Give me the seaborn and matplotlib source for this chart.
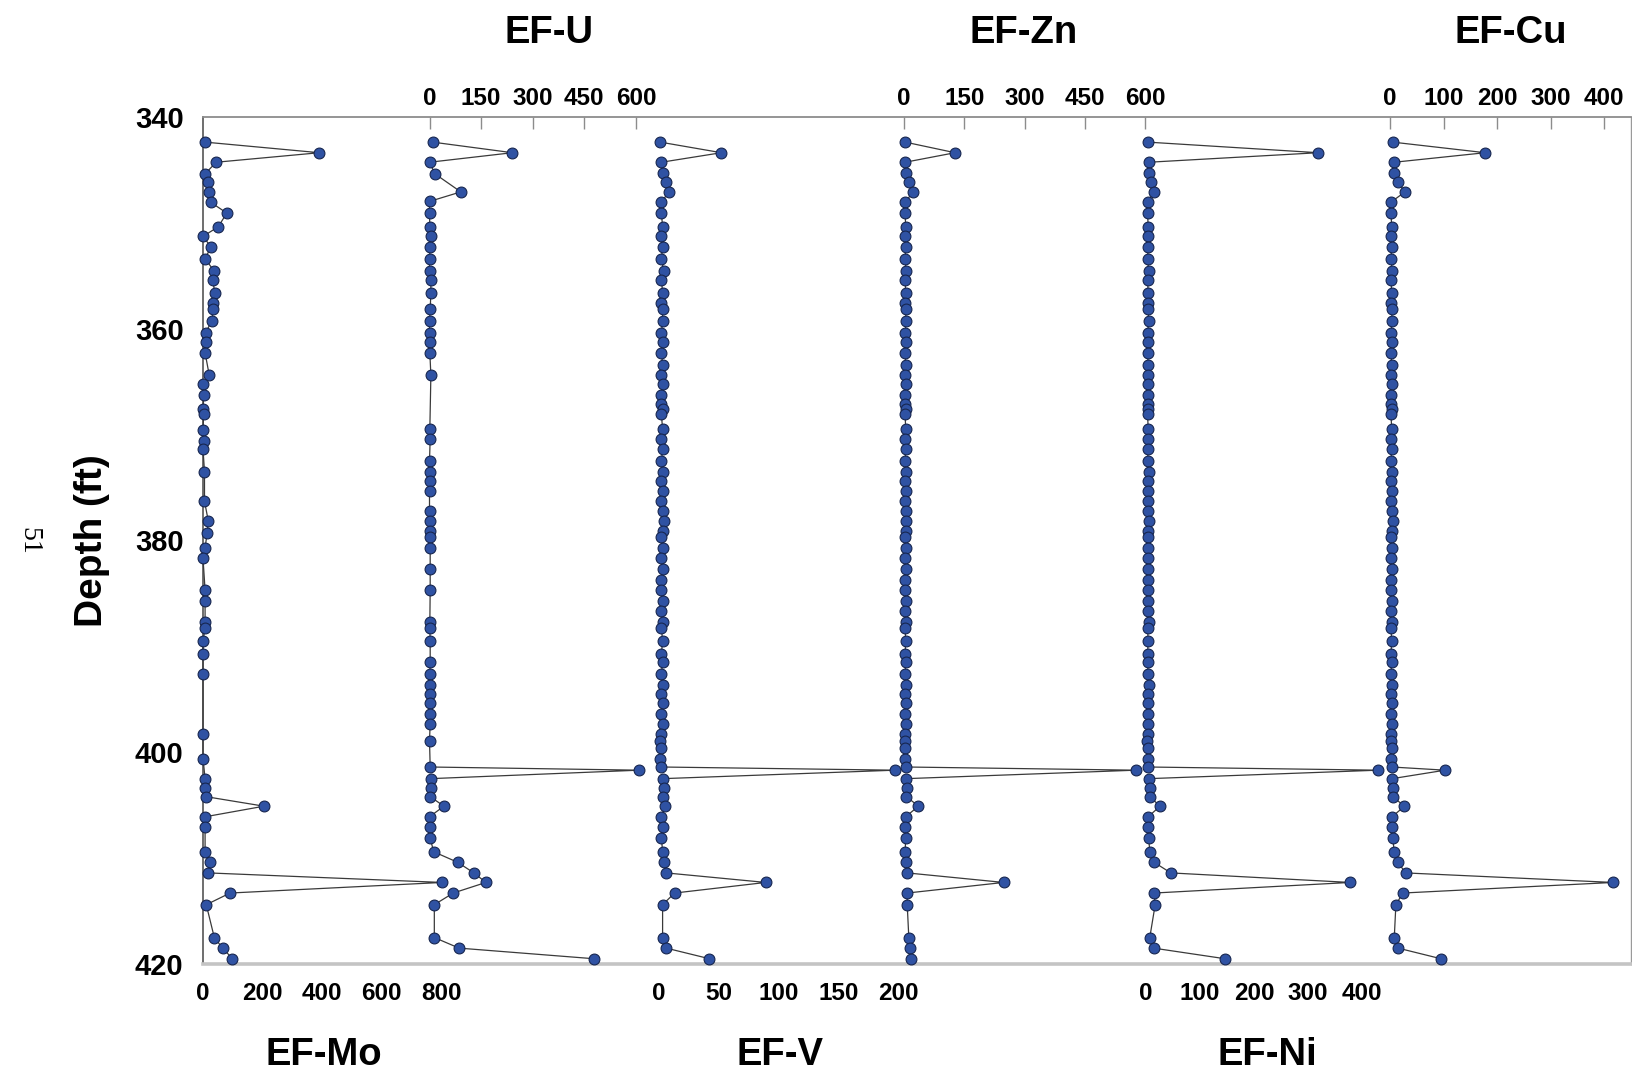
import matplotlib
matplotlib.use("Agg")
import matplotlib.pyplot as plt
import seaborn as sns

# ---- data (depth in ft, enrichment factors) ----
mo_depth = [342.4, 343.4, 344.3, 345.4, 346.2, 347.1, 348.1, 349.1, 350.4, 351.3,
            352.3, 353.4, 354.6, 355.4, 356.6, 357.6, 358.2, 359.3, 360.4, 361.3,
            362.3, 364.4, 365.2, 366.3, 367.6, 368.1, 369.6, 370.6, 371.4, 373.5,
            376.3, 378.2, 379.3, 380.7, 381.7, 384.7, 385.7, 387.7, 388.3, 389.5,
            390.7, 392.6, 398.3, 400.6, 402.5, 403.4, 404.2, 405.1, 406.1, 407.1,
            409.4, 410.4, 411.4, 412.3, 413.3, 414.4, 417.5, 418.5, 419.5]
mo = [7, 391, 44, 7, 18, 21, 27, 80, 51, 0,
      27, 7, 38, 32, 40, 35, 35, 29, 9, 9,
      7, 21, 0, 3, 0, 2, 0, 3, 0, 5,
      5, 18, 14, 7, 0, 7, 7, 7, 7, 0,
      0, 0, 0, 0, 7, 7, 10, 205, 7, 7,
      7, 24, 18, 804, 91, 11, 38, 66, 99]

u_depth = [342.4, 343.4, 344.3, 345.4, 347.1, 348.0, 349.1, 350.4, 351.3, 352.3,
           353.4, 354.6, 355.4, 356.6, 358.2, 359.3, 360.4, 361.3, 362.3, 364.4,
           369.5, 370.4, 372.5, 373.5, 374.4, 375.3, 377.2, 378.2, 379.1, 379.7,
           380.7, 382.7, 384.7, 387.7, 388.3, 389.5, 391.5, 392.6, 393.7, 394.5,
           395.4, 396.4, 397.3, 398.9, 401.4, 401.7, 402.5, 403.4, 404.2, 405.1,
           406.1, 407.1, 408.1, 409.4, 410.4, 411.4, 412.3, 413.3, 414.4, 417.5,
           418.5, 419.5]
u = [9, 241, 0, 16, 91, 0, 0, 1, 4, 2,
     0, 0, 4, 4, 2, 0, 0, 1, 1, 4,
     1, 2, 0, 0, 1, 0, 0, 1, 1, 1,
     2, 2, 2, 1, 1, 2, 2, 1, 1, 1,
     1, 1, 2, 0, 2, 609, 3, 5, 2, 42,
     0, 2, 2, 12, 82, 129, 164, 69, 14, 14,
     86, 477]

depth = [342.4, 343.4, 344.3, 345.3, 346.2, 347.1, 348.1, 349.1, 350.4, 351.3,
         352.3, 353.4, 354.6, 355.4, 356.6, 357.6, 358.2, 359.3, 360.4, 361.3,
         362.3, 363.4, 364.4, 365.2, 366.3, 367.1, 367.6, 368.1, 369.5, 370.4,
         371.4, 372.5, 373.5, 374.4, 375.3, 376.3, 377.2, 378.2, 379.1, 379.7,
         380.7, 381.7, 382.7, 383.7, 384.7, 385.7, 386.7, 387.7, 388.3, 389.5,
         390.7, 391.5, 392.6, 393.7, 394.5, 395.4, 396.4, 397.3, 398.3, 398.9,
         399.6, 400.6, 401.4, 401.7, 402.5, 403.4, 404.2, 405.1, 406.1, 407.1,
         408.1, 409.4, 410.4, 411.4, 412.3, 413.3, 414.4, 417.5, 418.5, 419.5]
v = [1, 52, 2, 3, 6, 8, 2, 2, 3, 2,
     3, 2, 4, 2, 3, 2, 3, 3, 2, 3,
     2, 3, 2, 3, 2, 2, 3, 2, 3, 2,
     3, 2, 3, 2, 3, 2, 3, 4, 3, 2,
     3, 2, 3, 2, 2, 3, 2, 3, 2, 3,
     2, 3, 2, 3, 2, 3, 2, 3, 2, 1,
     2, 1, 2, 197, 3, 4, 3, 5, 2, 3,
     2, 3, 4, 6, 89, 13, 3, 3, 6, 42]
zn = [3, 127, 3, 6, 12, 22, 3, 3, 4, 3,
      4, 3, 5, 3, 4, 3, 4, 5, 3, 4,
      3, 4, 3, 4, 3, 3, 4, 3, 4, 3,
      4, 3, 5, 3, 4, 3, 4, 6, 4, 3,
      4, 3, 4, 3, 3, 4, 3, 5, 3, 4,
      3, 4, 3, 5, 3, 4, 3, 4, 3, 2,
      3, 2, 6, 577, 5, 8, 6, 36, 4, 3,
      4, 3, 5, 8, 248, 8, 8, 12, 16, 18]
ni = [3, 319, 5, 6, 10, 15, 3, 3, 4, 3,
      4, 3, 5, 3, 4, 3, 4, 5, 3, 4,
      3, 4, 3, 4, 3, 3, 4, 3, 4, 3,
      4, 3, 5, 3, 4, 3, 4, 6, 4, 3,
      4, 3, 4, 3, 3, 4, 3, 5, 3, 4,
      3, 4, 3, 5, 3, 4, 3, 4, 3, 2,
      4, 3, 4, 430, 5, 8, 7, 26, 4, 3,
      5, 7, 15, 46, 378, 15, 17, 7, 14, 146]
cu = [5, 178, 8, 7, 15, 28, 1, 2, 3, 2,
      3, 2, 4, 2, 3, 2, 3, 4, 2, 3,
      2, 3, 2, 3, 2, 2, 3, 2, 3, 2,
      3, 2, 3, 2, 3, 2, 3, 5, 3, 2,
      3, 2, 3, 2, 2, 3, 2, 3, 2, 3,
      2, 3, 2, 3, 2, 3, 2, 3, 2, 1,
      3, 2, 3, 103, 4, 6, 5, 27, 4, 3,
      5, 8, 15, 29, 417, 24, 11, 8, 15, 95]

depth_ticks = [340, 360, 380, 400, 420]

sns.set_theme(style="white")
plt.rcParams["font.family"] = ["Liberation Sans", "DejaVu Sans"]
plt.rcParams["text.color"] = "black"
plt.rcParams["axes.labelcolor"] = "black"
plt.rcParams["xtick.labelcolor"] = "black"
plt.rcParams["ytick.labelcolor"] = "black"

W, H = 1632, 1078
TOP, BOT = 116.7, 964.0
fig = plt.figure(figsize=(W / 100, H / 100), dpi=100)


def box(x0, x1):
    return [x0 / W, 1 - BOT / H, (x1 - x0) / W, (BOT - TOP) / H]


# frame carrying the depth axis and the long top/bottom lines
frame = fig.add_axes(box(203, 1631))
frame.set_xlim(0, 1)
frame.set_ylim(420, 340)
frame.set_xticks([])
frame.set_yticks(depth_ticks)
frame.tick_params(axis="y", length=0, pad=14, labelsize=21, labelcolor="black")
for t in frame.get_yticklabels():
    t.set_fontweight("bold")
frame.spines["left"].set_color("#555555")
frame.spines["left"].set_linewidth(1.2)
frame.spines["top"].set_color("#8c8c8c")
frame.spines["top"].set_linewidth(1.3)
frame.spines["bottom"].set_color("#c4c4c4")
frame.spines["bottom"].set_linewidth(2.6)
frame.spines["right"].set_color("#9a9a9a")
frame.spines["right"].set_linewidth(1.0)
frame.set_ylabel("Depth (ft)", fontsize=28, fontweight="bold", color="black")
frame.yaxis.set_label_coords(-(203 - 110) / (1631 - 203), 0.5)

# name, depth, values, zero pixel, px per unit, span px, ticks, side
panels = [
    ("EF-Mo", mo_depth, mo, 203, 0.2975, 240, [0, 200, 400, 600, 800], "bottom"),
    ("EF-U", u_depth, u, 429.5, 0.344, 215, [0, 150, 300, 450, 600], "top"),
    ("EF-V", depth, v, 659, 1.199, 240, [0, 50, 100, 150, 200], "bottom"),
    ("EF-Zn", depth, zn, 904, 0.4017, 242, [0, 150, 300, 450, 600], "top"),
    ("EF-Ni", depth, ni, 1146, 0.54, 235, [0, 100, 200, 300, 400], "bottom"),
    ("EF-Cu", depth, cu, 1390, 0.535, 241, [0, 100, 200, 300, 400], "top"),
]
title_x = {"EF-Mo": 323.5, "EF-U": 549, "EF-V": 780, "EF-Zn": 1024,
           "EF-Ni": 1267, "EF-Cu": 1511}

for name, d, vals, x0, scale, span, ticks, side in panels:
    ax = fig.add_axes(box(x0, x0 + span))
    ax.patch.set_visible(False)
    for s in ax.spines.values():
        s.set_visible(False)
    sns.lineplot(x=vals, y=d, orient="y", estimator=None, ax=ax,
                 color="#3a3a3a", linewidth=0.9, marker="o", markersize=7.8,
                 markerfacecolor="#2f52a3", markeredgecolor="#17264f",
                 markeredgewidth=0.8, clip_on=False)
    ax.set_xlim(0, span / scale)
    ax.set_ylim(420, 340)
    ax.set_yticks([])
    ax.set_xticks(ticks)
    ax.set_xlabel("")
    ax.set_ylabel("")
    if side == "top":
        ax.xaxis.tick_top()
        ax.tick_params(axis="x", direction="in", length=8.5, width=1,
                       color="#8c8c8c", pad=4.5, labelsize=17.5,
                       labelcolor="black")
        ty = 43
    else:
        ax.tick_params(axis="x", direction="in", length=8.5, width=1,
                       color="#8c8c8c", pad=13, labelsize=17.5,
                       labelcolor="black")
        ty = 1065
    for t in ax.get_xticklabels():
        t.set_fontweight("bold")
    fig.text(title_x[name] / W, 1 - ty / H, name, ha="center", va="baseline",
             fontsize=27.5, fontweight="bold", color="black")

# page number printed sideways on the left margin
fig.text(29 / W, 1 - 541 / H, "51", rotation=-90, ha="center", va="center",
         fontsize=20, color="black", family=["Liberation Serif", "DejaVu Serif"])

fig.savefig("out.png", dpi=100)
